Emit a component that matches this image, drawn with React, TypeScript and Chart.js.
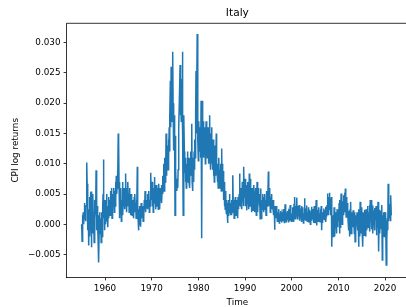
import React, { useEffect, useRef } from 'react';
import { Chart, registerables } from 'chart.js';

Chart.register(...registerables);

// Italy: monthly CPI log returns, in thousandths (x 0.001).
const START_YEAR = 1955;

const cpi1950s = [
  0, -2.8, 1.5, 0.5, 2, 0, 1, 3.5, 1, 2, 0.5, 3,
  3, 10.2, 6.7, 1, -1, 2.5, -3.5, 1, 4.5, -2, 0.5, 5,
  5.4, -3.8, 1, 3, -1.5, 5, 0, 2, -3, 4, 1, 2.5,
  2, 8.9, 4, -1, 3, 0, -2, 1.5, -6.3, -1, 2, 0,
  -1.5, 1, -3, 0.5, 2, -2, 3, 5, 10.7, 1, 4, -1,
];

const cpi1960s = [
  2, 0, 4, 1, 5, 0.5, 3, -0.5, 2, 4.5, 1, 3,
  4, 1.5, 5.5, 2, 3, 6, 1, 4, 2.5, 5, 3, 6,
  2, 5.5, 3, 7, 4, 8, 5, 6, 9, 7, 15, 13.7,
  7, 4, 1, 5, 2, 6, 0.5, 4, 3, 7, 1.5, 5,
  3, 6, 2.5, 5, 3, 8.4, 4, 6, 2, 5.5, 3, 7,
  4, 5, 2, 6, 3, 4.5, 1.5, 5, 2.5, 3.5, 1.5, 4,
  2, 3, 1, 4.5, 2, 5, 2.5, 3.5, 1, 4, 2, 9.5,
  3, 1, -1, 2.5, 0, 3, 0.5, 2, -0.4, 3.5, 1, 2.5,
  1.5, 3, 0.5, 2, 1, 4, 2.5, 5.5, 3, 2, 4, 3,
  3, 5, 2.5, 4.5, 3.5, 5.5, 2, 4, 3, 6, 8.5, 4,
];

const cpi1970s = [
  4, 7, 3, 5.5, 2, 6, 3.5, 7.8, 4, 5, 2.5, 6.5,
  4, 6.5, 3, 5, 6, 2.5, 6.7, 4.5, 5.5, 2.5, 6, 4,
  5, 6.5, 3.5, 6, 8, 5, 7, 10, 5.5, 8.5, 11, 7,
  9, 15, 8, 12.3, 10, 13, 9, 14, 11, 16, 12, 18,
  23.7, 16, 26, 19, 22, 17, 28.5, 20, 15, 12.2, 18, 14,
  1.5, 14.6, 9, 6, 7.5, 5.5, 7, 6, 9, 12, 16, 20,
  20, 26.3, 18, 22, 17, 24, 20, 28.5, 15, 1.5, 14, 18,
  12, 8.5, 11, 7, 9.5, 6, 10, 8, 12, 9.8, 7, 11,
  7, 10, 6, 11, 8, 12, 9, 16.6, 7, 5.5, 9, 11,
  7, 12, 9, 14, 11, 18, 25.3, 15, 20, 31.4, 18, 14,
];

const cpi1980s = [
  10.5, 17, 13, 16, 12, 15, 11, 20.4, 14, -2.3, 20.4, 15,
  14, 17, 11, 15, 12, 16, 10, 14, 17, 12, 15, 11,
  13, 16, 10, 14, 12, 18, 11, 15, 9, 13, 16, 10,
  12, 9, 14, 8, 11, 7, 13, 9, 12, 8, 15, 10,
  9, 7, 10, 6, 8, 11, 7, 9, 6, 10, 8, 5.5,
  12.5, 6, 10, 5.5, 8.8, 4, 7, 3, 6, 2.5, 5.5, 3,
  1.8, 4, 2, 0.2, 3.5, 1.5, 4, 2, 5, 2.5, 3.5, 1.5,
  2.5, 4, 1.5, 3, 2, 8.1, 2, 4, 1, 3, 2, 4.5,
  3, 1.5, 4, 2, 3.5, 1, 4.5, 2.5, 3, 5, 8.4, 3,
  4, 6, 3, 5.5, 2.5, 7, 4, 5, 3, 9.5, 4.5, 5.5,
];

const cpi1990s = [
  7.5, 5, 3, 6.5, 2.3, 5, 3.5, 7, 4, 6, 2.5, 8.4,
  6, 3, 7.5, 4, 5, 2, 6, 3.5, 5.5, 2.3, 4.5, 6.5,
  4, 2, 5.5, 3, 6, 1.5, 4, 7, 5, 2, 6, 3.5,
  5, 3, 4.5, 0.9, 5.9, 3.5, 1, 4, 2.5, 5, 3, 4,
  2, 4.5, 3, 5, 2.5, 4, 1.5, 3.5, 5.5, 3, 4.5, 4,
  8.7, 3, 6, 4, 5.5, 2, 4.5, 3, 5, 2.5, 4, 3,
  2.5, 4, 1.5, 3, -0.9, 1, 2, 1, 3, 1.5, 2.5, 0.5,
  2, 0.5, 1.5, 2.5, 0.2, 1.8, 1, 2.2, 0.8, 1.5, 0.3, 2,
  1.5, 0.5, 2.5, 1, 2, 0.3, 1.2, 3.3, 0.8, 1.6, 0.4, 2,
  0.8, 2.2, 1, 1.7, 0.3, 2.5, 1.2, 0.6, 3.2, 1, 1.9, 0.5,
];

const cpi2000s = [
  1.8, 0.6, 2.8, 1.2, 2, 0.4, 3.4, 1.5, 4.5, 0.9, 3, 1.8,
  2.5, 4.4, 1.6, 3, 0.8, 2.3, 1.4, 3.2, 0.6, 2, 1.2, 2.6,
  1.5, 3, 0.4, 2.2, 1, 2.8, 0.2, 1.8, 0.8, 4.3, 1.2, 2,
  0.6, 2.6, 1.4, 3.1, 0.5, 2, 1, 2.8, 0.3, 1.7, 2.4, 1,
  0, 2.1, 1.2, 2.9, 0.6, 1.8, 0.9, 2.5, 0.2, 1.5, 3, 1.1,
  0.3, 2.2, 1.4, 4, -0.2, 1.9, 1, 2.4, 0.5, 1.6, 2.8, 0.7,
  1.8, 0.4, 2.5, 1.3, 3, -1, 2, 0.2, 1.5, 0.9, 2.6, 1.2,
  0.8, 2.3, 1.1, 2.9, 0.4, 1.8, 1.3, 3.2, 5.1, 2.4, 1.6, 4.5,
  2.5, 5.2, 3, 4, 1.5, 3.5, 4.5, -3.7, 0.5, -1, 1.5, -2,
  -1, 2.8, 0.5, -2, 1.5, 0, 2, -1.5, 1, 2.5, -0.5, 1.8,
];

const cpi2010s = [
  2, 0.5, 3.5, -1.5, 4, -0.5, 2.5, 5.1, 1, 3, 0, 3.8,
  2.5, 4.8, 1.5, 3.5, 5.2, 2, 5.9, 3, 1.2, 4.5, 2, 3.5,
  2.8, 0.5, 2.2, -1, 1.5, -2, 2.5, 0, 3.7, -1.5, 2, 0.5,
  1.8, -0.5, 2.3, 0, 1.2, -1.5, 2, -2.9, 0.8, -1, 1.5, 0.2,
  2, -1, 1.5, 0.5, -3.7, 2.5, -0.5, -2, 3.7, -1.5, 1.8, 0,
  2.8, -1, 1.5, -3.7, 2, 0.5, -1.8, 2.4, -0.5, 1, -2, 1.6,
  2.5, -1, 1.8, 0.2, 3, -0.5, 2, 1, 3.2, -1.2, 4, 0.5,
  2.8, -0.8, 4, 0.6, 3.1, -1.5, 2.3, 0.2, 1.4, -1, 2.7, 0.8,
  1.5, 3, -1.8, 2.2, -0.5, 1.8, 3.7, -1, -4.5, 2.4, -1.5, 1,
  2.2, -0.8, 1.7, 0.3, 3.2, -5.9, 1.5, -1, 2, 0.5, -2, 1.2,
];

const cpi2020s = [
  2, -1, 1.5, -6.7, 0.5, -2.5, 1, -1, 6.7, 3, 0.5, 2,
  1, 3.3, 0.5, 4.8, 1.5,
];

const xTickYears = [1960, 1970, 1980, 1990, 2000, 2010, 2020];
const xTickLabels = ['1960', '1970', '1980', '1990', '2000', '2010', '2020'];
const yTickValues = [-0.005, 0, 0.005, 0.01, 0.015, 0.02, 0.025, 0.03];
const yTickLabels = ['\u22120.005', '0.000', '0.005', '0.010', '0.015', '0.020', '0.025', '0.030'];

const X_MIN = 1951.79;
const X_MAX = 2024.49;
const Y_MIN = -0.00875;
const Y_MAX = 0.03318;

const FONT = '"DejaVu Sans", "Liberation Sans", sans-serif';

export default function App() {
  const canvasRef = useRef<HTMLCanvasElement | null>(null);

  useEffect(() => {
    const canvas = canvasRef.current;
    if (!canvas) return;

    const allValues = ([] as number[]).concat(
      cpi1950s, cpi1960s, cpi1970s, cpi1980s, cpi1990s, cpi2000s, cpi2010s, cpi2020s
    );
    const points = allValues.map((v, i) => ({ x: START_YEAR + i / 12, y: v / 1000 }));

    const textPlugin = {
      id: 'mplText',
      afterDraw(chart: any) {
        const { ctx, chartArea } = chart;
        ctx.save();
        // top spine (right spine lies beyond the picture)
        ctx.strokeStyle = '#000';
        ctx.lineWidth = 0.8;
        ctx.beginPath();
        ctx.moveTo(chartArea.left, chartArea.top);
        ctx.lineTo(chart.width, chartArea.top);
        ctx.stroke();

        const cx = (chartArea.left + 408) / 2;
        ctx.fillStyle = '#000';
        ctx.textAlign = 'center';
        ctx.textBaseline = 'alphabetic';
        ctx.font = `10.6px ${FONT}`;
        ctx.fillText('Italy', cx, 16);
        ctx.font = `8.8px ${FONT}`;
        ctx.fillText('Time', cx, 305);
        ctx.translate(17.5, (chartArea.top + chartArea.bottom) / 2);
        ctx.rotate(-Math.PI / 2);
        ctx.fillText('CPI log returns', 0, 0);
        ctx.restore();
      },
    };

    const chart = new Chart(canvas, {
      type: 'line',
      data: {
        datasets: [
          {
            data: points,
            borderColor: '#1f77b4',
            borderWidth: 1.5,
            pointRadius: 0,
            tension: 0,
            fill: false,
          },
        ],
      },
      options: {
        animation: false,
        responsive: false,
        devicePixelRatio: 1,
        layout: { padding: { left: 0, right: 0, top: 23.3, bottom: 0 } },
        plugins: {
          legend: { display: false },
          title: { display: false },
          tooltip: { enabled: false },
        },
        scales: {
          x: {
            type: 'linear',
            min: X_MIN,
            max: X_MAX,
            afterFit: (scale: any) => {
              scale.height = 307 - 277.3;
            },
            afterBuildTicks: (scale: any) => {
              scale.ticks = xTickYears.map((v) => ({ value: v }));
            },
            ticks: {
              autoSkip: false,
              maxRotation: 0,
              padding: 2.6,
              color: '#000',
              font: { family: FONT, size: 8.8 },
              callback: (_v: any, i: number) => xTickLabels[i],
            },
            grid: {
              display: true,
              drawOnChartArea: false,
              drawTicks: true,
              tickLength: 3.1,
              tickColor: '#000',
              tickWidth: 0.8,
            },
            border: { display: true, color: '#000', width: 0.8 },
          },
          y: {
            type: 'linear',
            min: Y_MIN,
            max: Y_MAX,
            afterFit: (scale: any) => {
              scale.width = 66.7;
            },
            afterBuildTicks: (scale: any) => {
              scale.ticks = yTickValues.map((v) => ({ value: v }));
            },
            ticks: {
              autoSkip: false,
              padding: 3.1,
              color: '#000',
              font: { family: FONT, size: 8.8 },
              callback: (_v: any, i: number) => yTickLabels[i],
            },
            grid: {
              display: true,
              drawOnChartArea: false,
              drawTicks: true,
              tickLength: 3.1,
              tickColor: '#000',
              tickWidth: 0.8,
            },
            border: { display: true, color: '#000', width: 0.8 },
          },
        },
      },
      plugins: [textPlugin],
    });

    return () => {
      chart.destroy();
    };
  }, []);

  return (
    <div style={{ position: 'absolute', left: 0, top: 0, width: 406, height: 307, background: '#fff' }}>
      <canvas ref={canvasRef} width={406} height={307} style={{ width: 406, height: 307 }} />
    </div>
  );
}
